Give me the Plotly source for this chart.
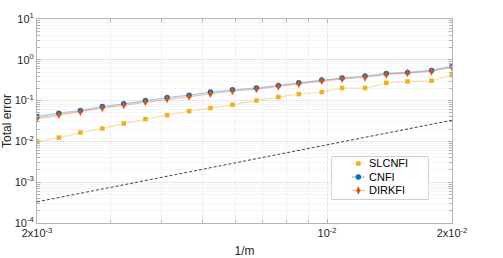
import numpy as np
import plotly.graph_objects as go

# Data
m_values = [500, 443, 393, 348, 309, 274, 243, 215, 191, 169, 148, 131, 117, 103, 92, 81, 72, 64, 56, 50]
inv_m = [1.0 / m for m in m_values]

slcnfi = [0.0099, 0.0124, 0.0165, 0.0207, 0.0274, 0.0352, 0.0441, 0.0553, 0.0655, 0.0789,
          0.1006, 0.122, 0.144, 0.162, 0.203, 0.203, 0.273, 0.294, 0.306, 0.422]
cnfi = [0.0407, 0.0493, 0.0571, 0.0716, 0.0835, 0.1006, 0.119, 0.136, 0.162, 0.184,
        0.203, 0.235, 0.273, 0.318, 0.357, 0.399, 0.462, 0.489, 0.548, 0.687]
dirkfi = [0.0364, 0.0449, 0.0531, 0.0655, 0.0776, 0.0919, 0.109, 0.126, 0.147, 0.171,
          0.191, 0.222, 0.258, 0.306, 0.343, 0.369, 0.437, 0.473, 0.518, 0.649]

ref_x = [2e-3, 2e-2]
ref_y = [3.3e-4, 3.3e-2]

series_names = ["SLCNFI", "CNFI", "DIRKFI"]

y_tickvals = [1e-4, 1e-3, 1e-2, 1e-1, 1e0, 1e1]
y_ticktext = ["10<sup>-4</sup>", "10<sup>-3</sup>", "10<sup>-2</sup>", "10<sup>-1</sup>", "10<sup>0</sup>", "10<sup>1</sup>"]
x_tickvals = [2e-3, 1e-2, 2e-2]
x_ticktext = ["2x10<sup>-3</sup>", "10<sup>-2</sup>", "2x10<sup>-2</sup>"]

YELLOW = "#EDB120"
BLUE = "#0072BD"
RED = "#D95319"
styles = [
    dict(color=YELLOW, line="rgba(237,177,32,0.35)", symbol="square", size=4.5),
    dict(color=BLUE, line="rgba(0,114,189,0.35)", symbol="circle", size=5.5),
    dict(color=RED, line="rgba(217,83,25,0.35)", symbol="diamond-tall", size=6),
]
series_values = [slcnfi, cnfi, dirkfi]

fig = go.Figure()

fig.add_trace(go.Scatter(
    x=ref_x, y=ref_y, mode="lines", showlegend=False,
    line=dict(color="#404040", width=1, dash="3px,2px"), hoverinfo="skip"))

for name, vals, st in zip(series_names, series_values, styles):
    fig.add_trace(go.Scatter(
        x=inv_m, y=vals, mode="lines+markers", name=name, showlegend=False,
        line=dict(color=st["line"], width=1.3),
        marker=dict(symbol=st["symbol"], size=st["size"], color=st["color"])))

# --- hand-built legend (MATLAB style, compact) on a hidden inset axis ---
leg_x0, leg_x1 = 0.710, 0.943
leg_y0, leg_y1 = 0.116, 0.3255
leg_rows = [0.84, 0.523, 0.207]
for name, row, st in zip(series_names, leg_rows, styles):
    fig.add_trace(go.Scatter(
        x=[0.207, 0.345], y=[row, row], mode="lines", showlegend=False,
        line=dict(color=st["line"], width=1.3), xaxis="x2", yaxis="y2", hoverinfo="skip"))
    fig.add_trace(go.Scatter(
        x=[0.276], y=[row], mode="markers", showlegend=False,
        marker=dict(symbol=st["symbol"], size=st["size"], color=st["color"]),
        xaxis="x2", yaxis="y2", hoverinfo="skip"))
    fig.add_annotation(x=0.369, y=row, xref="x2", yref="y2", text=name,
                       showarrow=False, xanchor="left", yanchor="middle",
                       font=dict(size=11, color="#000000"))

fig.add_shape(type="rect", xref="paper", yref="paper",
              x0=leg_x0, x1=leg_x1, y0=leg_y0, y1=leg_y1,
              line=dict(color="#a6a6a6", width=1), fillcolor="white", layer="below")

# minor tick positions (axis decoration only)
y_minor = [k * 10.0 ** e for e in range(-4, 1) for k in range(2, 10)]
x_minor = [k * 1e-3 for k in range(3, 10)]

font_family = "Liberation Sans, Arial, Helvetica, sans-serif"
AXC = "#b3b3b3"
TXT = "#262626"

fig.update_layout(
    width=503, height=258,
    margin=dict(l=37, r=51, t=19, b=35),
    paper_bgcolor="white", plot_bgcolor="white",
    font=dict(family=font_family, size=11, color=TXT),
    showlegend=False,
    xaxis=dict(
        type="log", range=[np.log10(2e-3), np.log10(2e-2)],
        tickmode="array", tickvals=x_tickvals, ticktext=x_ticktext,
        ticks="inside", ticklen=4, tickcolor=AXC,
        showline=True, linecolor=AXC, linewidth=1, mirror="ticks",
        showgrid=True, gridcolor="#eeeeee", gridwidth=1,
        minor=dict(tickvals=x_minor, ticks="inside", ticklen=3, tickcolor=AXC,
                   showgrid=True, gridcolor="#f0f0f0", gridwidth=1),
        zeroline=False, automargin=False,
        title=dict(text="1/m", font=dict(size=12, color=TXT), standoff=8),
        tickfont=dict(size=11, color=TXT),
    ),
    yaxis=dict(
        type="log", range=[-4, 1],
        tickmode="array", tickvals=y_tickvals, ticktext=y_ticktext,
        ticks="inside", ticklen=4, tickcolor=AXC,
        showline=True, linecolor=AXC, linewidth=1, mirror="ticks",
        showgrid=True, gridcolor="#e8e8e8", gridwidth=1,
        minor=dict(tickvals=y_minor, ticks="inside", ticklen=3, tickcolor=AXC,
                   showgrid=True, gridcolor="#f5f5f5", gridwidth=1),
        zeroline=False, automargin=False,
        title=dict(text="Total error", font=dict(size=12, color=TXT), standoff=6),
        tickfont=dict(size=11, color=TXT),
    ),
    xaxis2=dict(domain=[leg_x0, leg_x1], range=[0, 1], visible=False, anchor="y2",
                fixedrange=True),
    yaxis2=dict(domain=[leg_y0, leg_y1], range=[0, 1], visible=False, anchor="x2",
                fixedrange=True),
)

fig.write_html("out.html", config={"displayModeBar": False},
               post_script="document.body.style.margin='0';")
